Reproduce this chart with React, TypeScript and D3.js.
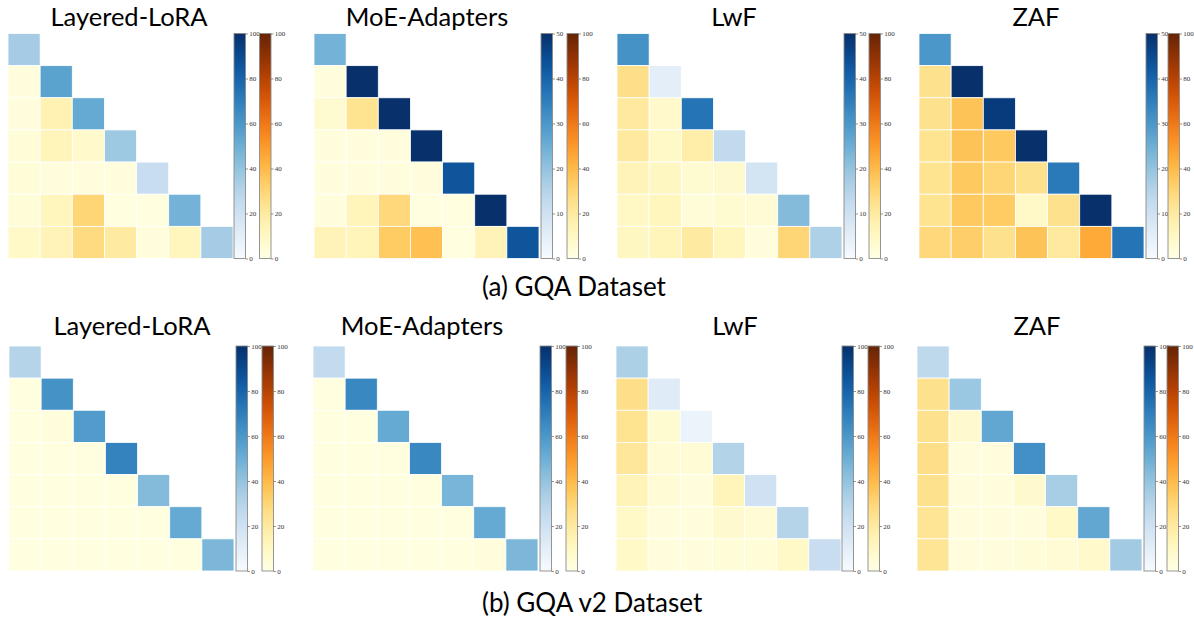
import React, { useEffect, useRef } from 'react'
import * as d3 from 'd3'

// lower-triangular task matrices, row i holds i+1 values, last one is the diagonal
const gqaLayeredLora = [
  [35],
  [3, 55],
  [3, 15, 52],
  [4, 13, 8, 37],
  [4, 3, 3, 3, 23],
  [4, 12, 30, 2, 2, 48],
  [9, 14, 28, 20, 3, 12, 35],
]
const gqaMoeAdapters = [
  [24],
  [3, 50],
  [6, 24, 50],
  [3, 3, 3, 50],
  [3, 3, 3, 3, 43],
  [3, 13, 29, 2, 2, 50],
  [14, 13, 34, 38, 2, 14, 43],
]
const gqaLwf = [
  [31],
  [26, 5],
  [21, 8, 37],
  [21, 9, 18, 13],
  [14, 11, 6, 7, 9],
  [10, 12, 4, 6, 5, 22],
  [11, 13, 20, 12, 3, 30, 16],
]
const gqaZaf = [
  [30],
  [25, 50],
  [25, 37, 48],
  [24, 37, 35, 50],
  [24, 35, 30, 25, 36],
  [24, 35, 34, 9, 25, 50],
  [29, 33, 25, 37, 21, 45, 37],
]
const v2LayeredLora = [
  [30],
  [2, 62],
  [2, 3, 58],
  [2, 2, 2, 68],
  [2, 2, 2, 2, 44],
  [2, 2, 2, 2, 2, 52],
  [2, 2, 2, 2, 2, 2, 46],
]
const v2MoeAdapters = [
  [25],
  [2, 66],
  [2, 2, 52],
  [2, 2, 2, 66],
  [2, 2, 2, 2, 47],
  [2, 2, 2, 2, 2, 52],
  [2, 2, 2, 2, 2, 3, 46],
]
const v2Lwf = [
  [33],
  [26, 12],
  [24, 6, 6],
  [22, 5, 5, 31],
  [14, 5, 3, 13, 20],
  [9, 3, 3, 7, 5, 30],
  [9, 3, 3, 4, 4, 9, 23],
]
const v2Zaf = [
  [27],
  [25, 38],
  [25, 7, 53],
  [26, 3, 3, 63],
  [25, 3, 3, 7, 34],
  [23, 3, 3, 3, 9, 53],
  [23, 3, 3, 4, 5, 8, 36],
]

const titles = ['Layered-LoRA', 'MoE-Adapters', 'LwF', 'ZAF']
const matrices = [gqaLayeredLora, gqaMoeAdapters, gqaLwf, gqaZaf, v2LayeredLora, v2MoeAdapters, v2Lwf, v2Zaf]
const blueMax = [100, 50, 50, 50, 100, 100, 100, 100]
const orangeMax = [100, 100, 100, 100, 100, 100, 100, 100]
const captions = ['(a) GQA Dataset', '(b) GQA v2 Dataset']

// where each panel sits in the composite picture
const layout = [
  { gx: 8, gy: 33.5, bx: 234, ox: 259.5, tx: 129, ty: 26 },
  { gx: 314, gy: 33.5, bx: 541, ox: 567, tx: 427, ty: 26 },
  { gx: 617, gy: 33.5, bx: 844, ox: 869, tx: 734, ty: 26 },
  { gx: 919, gy: 33.5, bx: 1146, ox: 1168, tx: 1036, ty: 26 },
  { gx: 9, gy: 346, bx: 236, ox: 262, tx: 132, ty: 335 },
  { gx: 313, gy: 346, bx: 540, ox: 566, tx: 422, ty: 335 },
  { gx: 616, gy: 346, bx: 842, ox: 868, tx: 735, ty: 335 },
  { gx: 917, gy: 346, bx: 1144, ox: 1167, tx: 1037, ty: 335 },
]
const captionPos = [{ x: 482, y: 296 }, { x: 482, y: 612 }]

const W = 1194
const H = 619
const gridSize = 225
const barW = 11.5
const titleFont = 'Lato, "Open Sans", sans-serif'

function App() {
  const ref = useRef(null)

  useEffect(() => {
    const svg = d3.select(ref.current)
    svg.selectAll('*').remove()
    const defs = svg.append('defs')

    const addGradient = (id, interp) => {
      const g = defs.append('linearGradient')
        .attr('id', id)
        .attr('x1', 0).attr('y1', 1).attr('x2', 0).attr('y2', 0)
      d3.range(0, 1.0001, 0.05).forEach(t => {
        g.append('stop').attr('offset', t).attr('stop-color', interp(t))
      })
    }
    addGradient('gradBlues', d3.interpolateBlues)
    addGradient('gradOrange', d3.interpolateYlOrBr)

    matrices.forEach((m, p) => {
      const L = layout[p]
      const n = m.length
      const band = d3.scaleBand().domain(d3.range(n)).range([0, gridSize])
      const blue = d3.scaleSequential(d3.interpolateBlues).domain([0, blueMax[p]])
      const orange = d3.scaleSequential(d3.interpolateYlOrBr).domain([0, orangeMax[p]])

      const g = svg.append('g').attr('transform', `translate(${L.gx}, ${L.gy})`)
      const cells = m.flatMap((row, i) => row.map((v, j) => ({ i, j, v })))
      g.selectAll('rect')
        .data(cells)
        .enter()
        .append('rect')
        .attr('x', d => band(d.j))
        .attr('y', d => band(d.i))
        .attr('width', band.bandwidth())
        .attr('height', band.bandwidth())
        .attr('fill', d => d.i === d.j ? blue(Math.min(d.v, blueMax[p])) : orange(d.v))
        .attr('stroke', '#ffffff')
        .attr('stroke-width', 0.8)

      svg.append('text')
        .attr('x', L.tx)
        .attr('y', L.ty)
        .attr('text-anchor', 'middle')
        .attr('font-family', titleFont)
        .attr('font-size', 25.5)
        .attr('fill', '#000')
        .text(titles[p % 4])

      // two colorbars
      const bars = [
        { x: L.bx, grad: 'gradBlues', max: blueMax[p] },
        { x: L.ox, grad: 'gradOrange', max: orangeMax[p] },
      ]
      bars.forEach(b => {
        const y = d3.scaleLinear().domain([0, b.max]).range([L.gy + gridSize, L.gy])
        svg.append('rect')
          .attr('x', b.x)
          .attr('y', L.gy)
          .attr('width', barW)
          .attr('height', gridSize)
          .attr('fill', `url(#${b.grad})`)
          .attr('stroke', '#8a8a8a')
          .attr('stroke-width', 0.9)
        const axis = svg.append('g')
          .attr('transform', `translate(${b.x + barW}, 0)`)
          .call(d3.axisRight(y).ticks(5).tickSize(2.5).tickPadding(1.2).tickFormat(d3.format('d')))
        axis.select('.domain').remove()
        axis.selectAll('line').attr('stroke', '#666').attr('stroke-width', 0.7)
        axis.selectAll('text')
          .attr('font-family', '"Liberation Serif", "DejaVu Serif", serif')
          .attr('font-size', 7)
          .attr('fill', '#333')
      })
    })

    captions.forEach((c, k) => {
      svg.append('text')
        .attr('x', captionPos[k].x)
        .attr('y', captionPos[k].y)
        .attr('font-family', titleFont)
        .attr('font-size', 26)
        .attr('fill', '#000')
        .text(c)
    })
  }, [])

  return (
    <svg
      ref={ref}
      width={W}
      height={H}
      style={{ position: 'absolute', left: 0, top: 0, background: '#fff' }}
    />
  )
}

export default App
